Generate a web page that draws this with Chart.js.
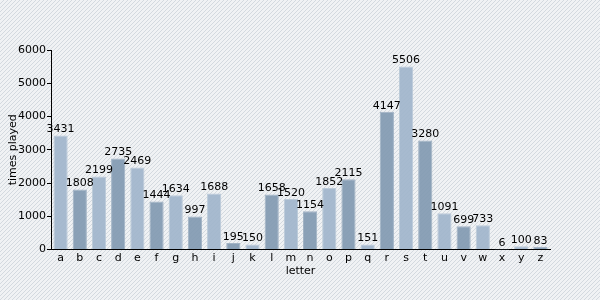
<!DOCTYPE html>
<html>
<head>
<meta charset="utf-8">
<script src="https://cdn.jsdelivr.net/npm/chart.js@4"></script>
<style>
	html, body { margin: 0; padding: 0; }
	#wrap { width: 600px; height: 300px; }
</style>
</head>
<body>
<div id="wrap"><canvas id="letterChart" width="600" height="300"></canvas></div>
<script>
// 데이터
const letters = ['a','b','c','d','e','f','g','h','i','j','k','l','m','n','o','p','q','r','s','t','u','v','w','x','y','z'];
const timesPlayed = [3431, 1808, 2199, 2735, 2469, 1444, 1634, 997, 1688, 195, 150, 1658, 1520, 1154, 1852, 2115, 151, 4147, 5506, 3280, 1091, 699, 733, 6, 100, 83];
const yTicks = [0, 1000, 2000, 3000, 4000, 5000, 6000];

const lightFill = 'rgba(158, 180, 203, 0.9)';
const darkFill = 'rgba(128, 152, 176, 0.9)';
const lightBorder = '#bccbd9';
const darkBorder = '#a3b4c5';

// 줄무늬 배경
const stripeBackground = {
	id: 'stripeBackground',
	beforeDraw: function(chart) {
		const ctx = chart.ctx;
		const p = document.createElement('canvas');
		p.width = 4;
		p.height = 4;
		const pc = p.getContext('2d');
		pc.fillStyle = '#f0f2f4';
		pc.fillRect(0, 0, 4, 4);
		pc.strokeStyle = '#d3d9df';
		pc.lineWidth = 1;
		pc.beginPath();
		pc.moveTo(0, 4); pc.lineTo(4, 0);
		pc.moveTo(-1, 1); pc.lineTo(1, -1);
		pc.moveTo(3, 5); pc.lineTo(5, 3);
		pc.stroke();
		ctx.save();
		ctx.fillStyle = ctx.createPattern(p, 'repeat');
		ctx.fillRect(0, 0, chart.width, chart.height);
		ctx.restore();
	}
};

// 막대 위 값 표시
const valueLabels = {
	id: 'valueLabels',
	afterDatasetsDraw: function(chart) {
		const ctx = chart.ctx;
		const meta = chart.getDatasetMeta(0);
		ctx.save();
		ctx.font = '11px "DejaVu Sans"';
		ctx.fillStyle = '#000';
		ctx.textAlign = 'center';
		ctx.textBaseline = 'bottom';
		meta.data.forEach(function(bar, i) {
			ctx.fillText(String(timesPlayed[i]), bar.x, bar.y - 0.5);
		});
		ctx.restore();
	}
};

new Chart(document.getElementById('letterChart'), {
	type: 'bar',
	data: {
		labels: letters,
		datasets: [{
			data: timesPlayed,
			backgroundColor: letters.map(function(l, i) { return i % 2 ? darkFill : lightFill; }),
			borderColor: letters.map(function(l, i) { return i % 2 ? darkBorder : lightBorder; }),
			borderWidth: 1,
			barPercentage: 0.74,
			categoryPercentage: 1
		}]
	},
	options: {
		responsive: false,
		animation: false,
		layout: { padding: { top: 50, right: 50, left: 0, bottom: 22 } },
		plugins: {
			legend: { display: false },
			tooltip: { enabled: false }
		},
		scales: {
			x: {
				grid: { display: false, drawTicks: false },
				border: { color: '#000', width: 1 },
				ticks: { color: '#000', font: { family: 'DejaVu Sans', size: 11 }, padding: 2, maxRotation: 0, autoSkip: false },
				title: { display: true, text: 'letter', color: '#000', font: { family: 'DejaVu Sans', size: 11 }, padding: { top: -2, bottom: 0 } }
			},
			y: {
				min: 0,
				max: 6000,
				afterFit: function(scale) { scale.width = 51; },
				afterBuildTicks: function(scale) { scale.ticks = yTicks.map(function(v) { return { value: v }; }); },
				grid: { drawOnChartArea: false, drawTicks: true, tickLength: 4, color: '#000' },
				border: { color: '#000', width: 1 },
				ticks: {
					color: '#000',
					font: { family: 'DejaVu Sans', size: 11 },
					padding: 1,
					callback: function(v) { return String(v); }
				},
				title: { display: true, text: 'times played', color: '#000', font: { family: 'DejaVu Sans', size: 11 }, padding: { top: 7, bottom: 0 } }
			}
		}
	},
	plugins: [stripeBackground, valueLabels]
});
</script>
</body>
</html>
